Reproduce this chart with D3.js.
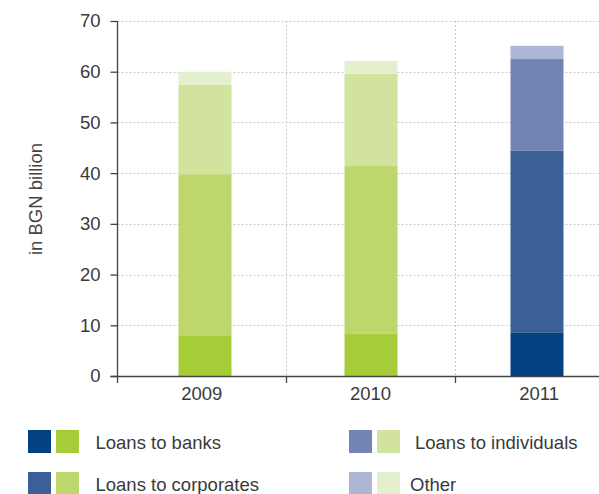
<!DOCTYPE html>
<html>
<head>
<meta charset="utf-8">
<script src="https://cdn.jsdelivr.net/npm/d3@7"></script>
<style>
  html, body { margin: 0; padding: 0; background: #fff; }
  svg { display: block; font-family: "Liberation Sans", Arial, sans-serif; }
</style>
</head>
<body>
<svg id="chart" width="599" height="494"></svg>
<script>
// Loan portfolio by segment, in BGN billion
const years = ["2009", "2010", "2011"];
const seriesNames = ["Loans to banks", "Loans to corporates", "Loans to individuals", "Other"];
const banks       = [7.9, 8.3, 8.5];
const corporates  = [31.9, 33.1, 35.9];
const individuals = [17.6, 18.2, 18.1];
const other       = [2.6, 2.5, 2.6];
const yTicks = [0, 10, 20, 30, 40, 50, 60, 70];

// 2009 and 2010 in green shades, 2011 in blue shades
const greenShades = ["#a6cd38", "#bed76d", "#d1e39c", "#e4efcd"];
const blueShades  = ["#024283", "#3b5f97", "#7284b3", "#adb6d4"];

const rows = years.map((yr, i) => ({
  year: yr,
  [seriesNames[0]]: banks[i],
  [seriesNames[1]]: corporates[i],
  [seriesNames[2]]: individuals[i],
  [seriesNames[3]]: other[i]
}));

const svg = d3.select("#chart");
const plotLeft = 117.5, plotRight = 623.5, plotTop = 21, plotBottom = 376;
const textColor = "#3a3a3a";

const y = d3.scaleLinear().domain([0, 70]).range([plotBottom, plotTop]);
const xGrid = d3.scaleBand().domain(years).range([plotLeft, plotRight]).padding(0);
const xBar = d3.scalePoint().domain(years).range([205, 537]);
const barW = 53;

// dotted grid
const grid = svg.append("g").attr("stroke", "#c9c9c9").attr("stroke-dasharray", "2,2").attr("stroke-width", 1);
grid.selectAll("line.h").data(yTicks.filter(t => t > 0)).join("line")
  .attr("x1", plotLeft).attr("x2", 599)
  .attr("y1", d => Math.round(y(d)) + 0.5).attr("y2", d => Math.round(y(d)) + 0.5);
grid.selectAll("line.v").data(years.slice(1)).join("line")
  .attr("x1", d => Math.round(xGrid(d)) + 0.5).attr("x2", d => Math.round(xGrid(d)) + 0.5)
  .attr("y1", plotTop).attr("y2", plotBottom);

// stacked bars
const stack = d3.stack().keys(seriesNames);
const layers = stack(rows);
const colorFor = (year, k) => (year === "2011" ? blueShades : greenShades)[k];

layers.forEach((layer, k) => {
  svg.append("g").selectAll("rect").data(layer).join("rect")
    .attr("x", d => xBar(d.data.year) - barW / 2)
    .attr("width", barW)
    .attr("y", d => y(d[1]))
    .attr("height", d => y(d[0]) - y(d[1]))
    .attr("fill", d => colorFor(d.data.year, k));
});

// y axis
const yAxis = d3.axisLeft(y).tickValues(yTicks).tickSize(7).tickPadding(10).tickSizeOuter(0);
const gy = svg.append("g").attr("transform", `translate(${plotLeft},0)`).call(yAxis);
gy.select(".domain").attr("stroke", "#444").attr("stroke-width", 1.3)
  .attr("d", `M0,${plotTop}V${plotBottom + 7}`);
gy.selectAll(".tick line").attr("stroke", "#444").attr("stroke-width", 1.3);
gy.selectAll(".tick text").attr("fill", textColor).attr("font-size", 18.5)
  .attr("font-family", "Liberation Sans, Arial, sans-serif");

// x axis with ticks at band boundaries, labels centred in each band
const gx = svg.append("g").attr("transform", `translate(0,${plotBottom})`);
gx.append("line").attr("x1", plotLeft - 7).attr("x2", 599).attr("y1", 0.5).attr("y2", 0.5)
  .attr("stroke", "#444").attr("stroke-width", 1.3);
gx.selectAll("line.tk").data(years.slice(1)).join("line")
  .attr("x1", d => Math.round(xGrid(d)) + 0.5).attr("x2", d => Math.round(xGrid(d)) + 0.5)
  .attr("y1", 0).attr("y2", 7).attr("stroke", "#444").attr("stroke-width", 1.3);
gx.selectAll("text").data(years).join("text")
  .attr("x", d => xGrid(d) + xGrid.bandwidth() / 2).attr("y", 23.5)
  .attr("text-anchor", "middle").attr("fill", textColor).attr("font-size", 18.5)
  .text(d => d);

// y axis title
svg.append("text")
  .attr("transform", "translate(42,199) rotate(-90)")
  .attr("text-anchor", "middle").attr("fill", "#444").attr("font-size", 18.5)
  .text("in BGN billion");

// legend: blue and green swatch per series
const legendPos = [
  { x: 28, y: 430 }, { x: 28, y: 472 },
  { x: 349, y: 430 }, { x: 349, y: 472 }
];
const lg = svg.append("g");
seriesNames.forEach((name, k) => {
  const p = legendPos[k];
  lg.append("rect").attr("x", p.x).attr("y", p.y).attr("width", 23).attr("height", 23).attr("fill", blueShades[k]);
  lg.append("rect").attr("x", p.x + 28).attr("y", p.y).attr("width", 23).attr("height", 23).attr("fill", greenShades[k]);
  lg.append("text").attr("x", p.x + (k === 3 ? 61 : k === 2 ? 66 : 67.5)).attr("y", p.y + 12.5)
    .attr("dominant-baseline", "central").attr("fill", textColor).attr("font-size", 18.5)
    .text(name);
});
</script>
</body>
</html>
